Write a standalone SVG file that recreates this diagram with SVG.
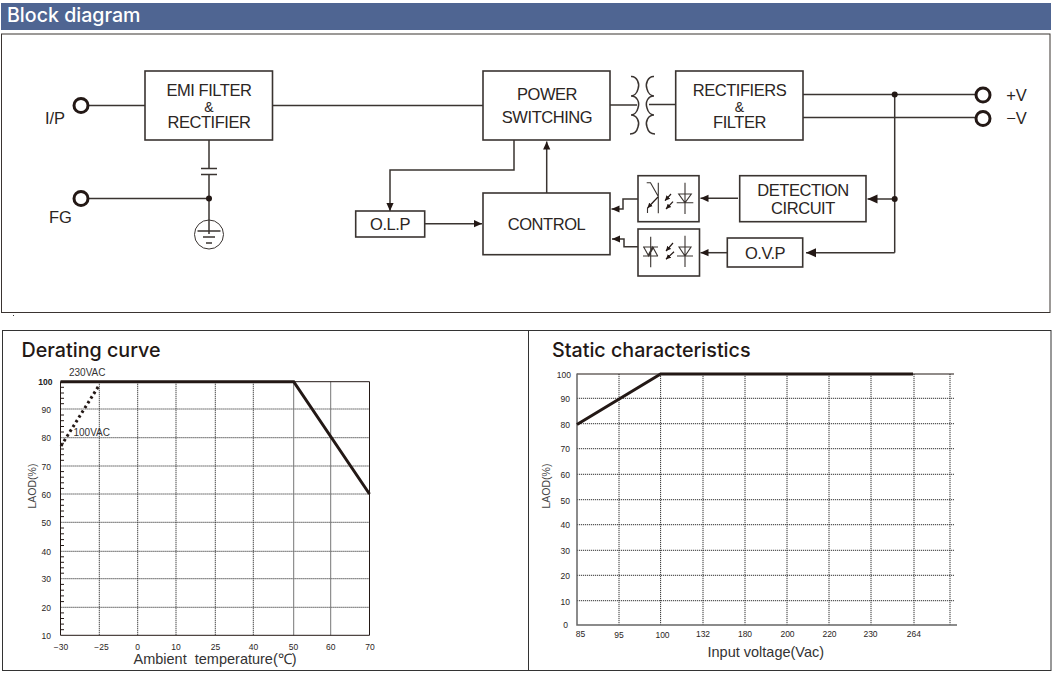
<svg xmlns="http://www.w3.org/2000/svg" width="1055" height="677" viewBox="0 0 1055 677">
<style>
text{font-family:"Liberation Sans",Arial,sans-serif;fill:#2b2523}
.b{fill:#fff;stroke:#3a3431;stroke-width:1.6}
.l{font-size:16.5px;letter-spacing:-.45px;text-anchor:middle}
.amp{font-size:14px;text-anchor:middle}
.n{font-size:16.5px;text-anchor:middle}
.w{fill:none;stroke:#3a3431;stroke-width:1.5}
.a{fill:none;stroke:#3a3431;stroke-width:1.5;marker-end:url(#ah)}
.A{fill:none;stroke:#3a3431;stroke-width:1.5;marker-end:url(#ahb)}
.t{fill:#fff;stroke:#231815;stroke-width:3}
.d{fill:#231815}
.s{fill:none;stroke:#3a3431;stroke-width:1.1}
.sa{fill:none;stroke:#231815;stroke-width:1.2;marker-end:url(#sm)}
.f{fill:none;stroke:#231815;stroke-width:1}
.g{fill:none;stroke:#333;stroke-width:1;stroke-dasharray:1.2 .8}
.tk{font-size:8.5px;fill:#444}
.ttl{font-family:"Inter","Liberation Sans",sans-serif;font-size:19.7px;font-weight:500;fill:#231815}
.ax{font-size:14.5px;fill:#333}
.c{fill:none;stroke:#231815;stroke-width:3}
</style>
<defs>
<marker id="ah" markerUnits="userSpaceOnUse" markerWidth="9" markerHeight="8" refX="8" refY="4" orient="auto"><path d="M0 .4L8 4L0 7.6z" fill="#231815"/></marker>
<marker id="ahb" markerUnits="userSpaceOnUse" markerWidth="11" markerHeight="10" refX="10" refY="5" orient="auto"><path d="M0 .5L10 5L0 9.5z" fill="#231815"/></marker>
<marker id="sm" markerUnits="userSpaceOnUse" markerWidth="6" markerHeight="6" refX="5" refY="3" orient="auto"><path d="M0 .5L5 3L0 5.5z" fill="#231815"/></marker>
</defs>

<g id="header">
<rect x="1" y="3" width="1050" height="27" fill="#4f6592"/>
<text x="7" y="21.5" style="font-family:Inter,'Liberation Sans',sans-serif;font-size:19.6px;font-weight:500;fill:#fff">Block diagram</text>
<rect x="1.5" y="34" width="1048.5" height="278.5" fill="none" stroke="#3a3431" stroke-width="1"/>
<rect x="13" y="315" width="1" height="1" fill="#333"/>
</g>

<g id="connectors">
<path class="w" d="M87 105.5H145M273 105.5H483M610 105H637M649 104.5H676"/>
<path class="w" d="M209 140V168.5M209 174.5V234M87 198.5H209"/>
<path class="w" d="M201 168.5H217M201 174.5H217" stroke-width="1.2"/>
<path class="w" d="M803 94.5H977M803 117.5H977"/>
<path class="w" d="M894.7 94.5V252.7"/>
<path class="a" d="M514 140V170H390V211"/>
<path class="a" d="M425 223.7H482"/>
<path class="a" d="M546.7 193V141.5"/>
<path class="a" d="M638 199H623V209H611.5"/>
<path class="a" d="M638 246.7H624V239H612"/>
<path class="a" d="M738 198.3H700.5"/>
<path class="a" d="M727 252.7H700.5"/>
<path class="A" d="M894.7 199H867.5"/>
<path class="A" d="M894.7 252.7H806"/>
<path class="w" d="M631 76.5C637 76 640 84 638 89C637 93 634 96 631 96C637 96 640 102 638 108C637 112 634 115 631 115C637 115 640 122 638 127C637 131 634 134 630 134"/>
<path class="w" d="M654 76.5C648 76 645 84 647 89C648 93 651 96 654 96C648 96 645 102 647 108C648 112 651 115 654 115C648 115 645 122 647 127C648 131 651 134 655 134"/>
<circle class="d" cx="209" cy="198.5" r="3"/>
<circle class="d" cx="894.7" cy="94.5" r="3"/>
<circle class="d" cx="894.7" cy="199" r="3"/>
</g>

<g id="ground">
<circle cx="209" cy="234.5" r="14.5" fill="none" stroke="#3a3431" stroke-width="1"/>
<path class="w" d="M197.5 231H220.5M203 237H215M206 243H212" stroke-width="1.1"/>
</g>

<g id="term-ip"><circle class="t" cx="81" cy="105.5" r="7"/><text class="n" x="55" y="123.5">I/P</text></g>
<g id="term-fg"><circle class="t" cx="81" cy="198.5" r="7"/><text class="n" x="60.5" y="222.5">FG</text></g>
<g id="term-pos"><circle class="t" cx="983" cy="95" r="7"/><text class="n" x="1016.5" y="101">+V</text></g>
<g id="term-neg"><circle class="t" cx="983" cy="118.5" r="7"/><text class="n" x="1016.5" y="124">−V</text></g>

<g id="emi"><rect class="b" x="145" y="71" width="127.5" height="69"/><text class="l" x="209" y="95.5">EMI FILTER</text><text class="amp" x="209" y="111.5">&amp;</text><text class="l" x="209" y="127.5">RECTIFIER</text></g>
<g id="power"><rect class="b" x="483" y="71" width="127" height="69"/><text class="l" x="547" y="100">POWER</text><text class="l" x="547" y="122.5">SWITCHING</text></g>
<g id="rect"><rect class="b" x="675.7" y="71" width="127.3" height="69"/><text class="l" x="739.5" y="95.5">RECTIFIERS</text><text class="amp" x="739.5" y="111.5">&amp;</text><text class="l" x="739.5" y="127.5">FILTER</text></g>
<g id="control"><rect class="b" x="483" y="193" width="127" height="61.7"/><text class="l" x="546.5" y="229.5">CONTROL</text></g>
<g id="olp"><rect class="b" x="355.7" y="211" width="69" height="26"/><text class="l" x="390" y="230">O.L.P</text></g>
<g id="detection"><rect class="b" x="739.7" y="175.7" width="126.3" height="46"/><text class="l" x="803" y="195.5">DETECTION</text><text class="l" x="803" y="213.5">CIRCUIT</text></g>
<g id="ovp"><rect class="b" x="727.3" y="238" width="75.4" height="29"/><text class="l" x="765" y="259">O.V.P</text></g>

<g id="opto1">
<rect class="b" x="638" y="175.7" width="61" height="46"/>
<path class="s" d="M658.3 182.7V213.3M646.7 182.7H650.5L658 196M647.5 213V208"/>
<path class="sa" d="M658 197L647.5 208" stroke-width="1.1"/>
<path class="sa" d="M671 194L665 200.7"/><path class="sa" d="M673 201.7L666 209"/>
<path class="s" d="M685 182.7V214M678.7 194H691.3L685 202.7zM676.7 202.7H693.3"/>
</g>
<g id="opto2">
<rect class="b" x="638" y="229" width="61.5" height="47"/>
<path class="s" d="M650.7 236.7V267.3M643 247H658M643 256H658M643.7 247L648.7 256L653.7 247M647.7 256L652.7 247L657.7 256"/>
<path class="sa" d="M673 243L666 251"/><path class="sa" d="M674 251.7L666 259.3"/>
<path class="s" d="M685 235.7V267M679 247H691L685 256zM677 256H693"/>
</g>

<g id="panels" fill="none" stroke="#333" stroke-width="1">
<rect x="2.5" y="330.5" width="1048.5" height="340"/>
<path d="M528.5 330.5V670.5"/>
</g>

<g id="derating">
<text class="ttl" x="21.5" y="357">Derating curve</text>
<path class="g" d="M60.5 409H369.5M60.5 437.7H369.5M60.5 466H369.5M60.5 494H369.5M60.5 522.3H369.5M60.5 551.3H369.5M60.5 578.7H369.5M60.5 607.3H369.5"/>
<path class="g" d="M99.3 381.7V635.3M137.7 381.7V635.3M176 381.7V635.3M215.3 381.7V635.3M253.3 381.7V635.3"/>
<path d="M293.7 381.7V635.3M330.7 381.7V635.3" fill="none" stroke="#777" stroke-width="1"/>
<path class="f" d="M60.5 381.7H369.5V635.3H60.5Z"/>
<path class="f" stroke-width=".8" d="M60.5 387.3H64M60.5 393H64M60.5 398.3H64M60.5 403.7H64M60.5 415H64M60.5 420.7H64M60.5 426.5H64M60.5 432H64M60.5 443.3H64M60.5 449H64M60.5 454.7H64M60.5 460.3H64M60.5 471.6H64M60.5 477.2H64M60.5 482.8H64M60.5 488.4H64M60.5 499.7H64M60.5 505.3H64M60.5 511H64M60.5 516.6H64M60.5 528H64M60.5 533.8H64M60.5 539.6H64M60.5 545.5H64M60.5 556.8H64M60.5 562.3H64M60.5 567.8H64M60.5 573.2H64M60.5 584.4H64M60.5 590.2H64M60.5 595.9H64M60.5 601.6H64M60.5 612.9H64M60.5 618.5H64M60.5 624.1H64M60.5 629.7H64"/>
<path class="c" d="M60.5 381.7H293.7L369.5 494"/>
<path class="c" stroke-dasharray="2.6 3" d="M61 446L99.3 385"/>
<g class="tk" text-anchor="end">
<text x="52.5" y="384.5" style="font-weight:bold;fill:#222">100</text><text x="51" y="412.5">90</text><text x="51" y="441">80</text><text x="51" y="469.5">70</text><text x="51" y="497.5">60</text><text x="51" y="526">50</text><text x="51" y="554.5">40</text><text x="51" y="582">30</text><text x="51" y="610.5">20</text><text x="51" y="638.5">10</text>
</g>
<g class="tk" text-anchor="middle">
<text x="61" y="649.5">−30</text><text x="101.5" y="649.5">−25</text><text x="137.7" y="649.5">0</text><text x="176" y="649.5">10</text><text x="215.5" y="649.5">25</text><text x="253.5" y="649.5">40</text><text x="293.5" y="649.5">50</text><text x="330.7" y="649.5">60</text><text x="370" y="649.5">70</text>
</g>
<text x="69" y="375.7" style="font-size:10px;fill:#333">230VAC</text>
<text x="73.5" y="436" style="font-size:10px;fill:#333">100VAC</text>
<text x="36" y="486" transform="rotate(-90 36 486)" text-anchor="middle" style="font-size:10.5px;fill:#444">LAOD(%)</text>
<text class="ax" x="133.5" y="663.5" xml:space="preserve">Ambient  temperature(℃)</text>
</g>

<g id="static">
<text class="ttl" x="552" y="357">Static characteristics</text>
<path class="g" d="M577 398.3H954M577 423.7H954M577 448.7H954M577 474.3H954M577 499.7H954M577 524.7H954M577 550.3H954M577 575.3H954M577 600.7H954"/>
<path class="g" d="M619 374V624.7M660.6 374V624.7M703 374V624.7M745 374V624.7M787 374V624.7M829 374V624.7M871 374V624.7M914 374V624.7M950 374V624.7"/>
<path d="M577 374H954" fill="none" stroke="#231815" stroke-width="1.1"/>
<path d="M577 373.5V625H957" fill="none" stroke="#666" stroke-width="1.5"/>
<path class="c" stroke-width="2.6" d="M577 424.5L660.6 374H913"/>
<g class="tk" text-anchor="end">
<text x="571" y="377.5">100</text><text x="570" y="402">90</text><text x="570" y="427.5">80</text><text x="570" y="452">70</text><text x="570" y="478">60</text><text x="570" y="503.5">50</text><text x="570" y="528">40</text><text x="570" y="554">30</text><text x="570" y="579">20</text><text x="570" y="604.5">10</text><text x="568" y="627.5">0</text>
</g>
<g class="tk" text-anchor="middle">
<text x="580.6" y="637">85</text><text x="619" y="637.5">95</text><text x="662.5" y="638">100</text><text x="703" y="637">132</text><text x="745" y="637">180</text><text x="787.5" y="637">200</text><text x="829.5" y="637">220</text><text x="870.5" y="637">230</text><text x="913.8" y="637">264</text>
</g>
<text x="549.5" y="486" transform="rotate(-90 549.5 486)" text-anchor="middle" style="font-size:10.5px;fill:#444">LAOD(%)</text>
<text class="ax" x="707.5" y="656.5">Input voltage(Vac)</text>
</g>
</svg>
